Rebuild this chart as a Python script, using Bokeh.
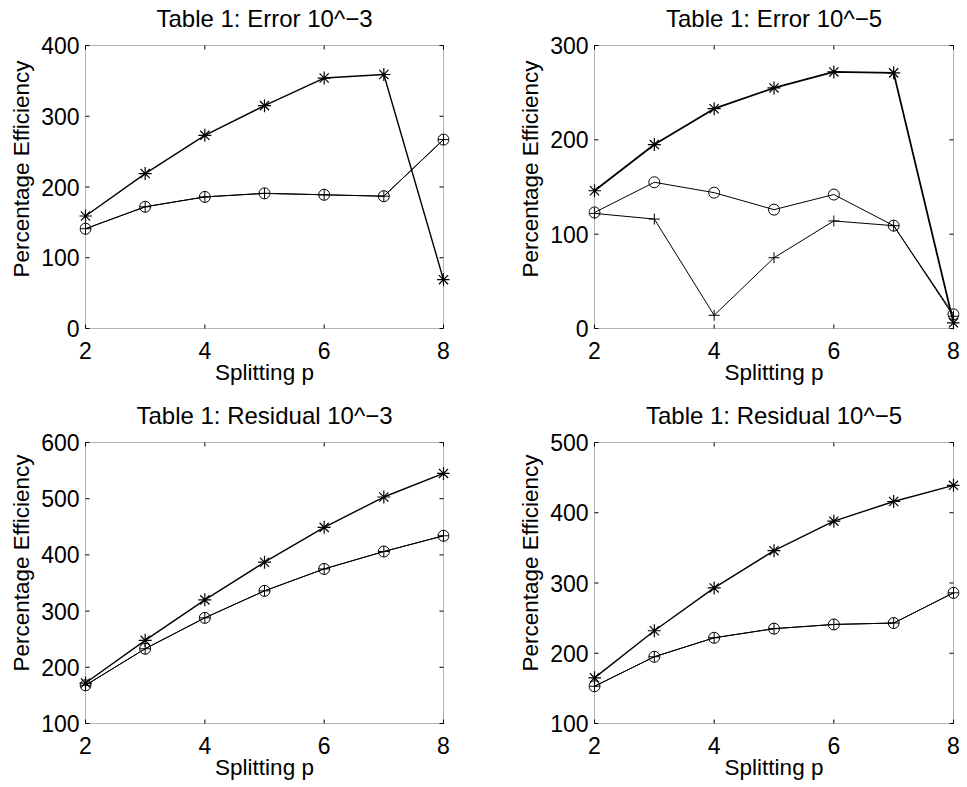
import math
from bokeh.plotting import figure
from bokeh.layouts import gridplot
from bokeh.models import FixedTicker, Range1d, BoxAnnotation, Label
from bokeh.embed import file_html
from bokeh.resources import INLINE

# ---- data ----
splitting = [2, 3, 4, 5, 6, 7, 8]

err3_star = [159, 219, 273, 315, 354, 359, 69]
err3_circle = [141, 172, 186, 191, 189, 187, 267]
err3_plus = [141, 172, 186, 191, 189, 187, 267]

err5_star = [146, 195, 233, 255, 272, 271, 6]
err5_circle = [123, 155, 144, 126, 142, 109, 15]
err5_plus = [122, 116, 14, 75, 114, 109, 13]

res3_star = [172, 248, 320, 387, 449, 503, 545]
res3_circle = [168, 233, 288, 336, 375, 406, 434]
res3_plus = [168, 233, 288, 336, 375, 406, 434]

res5_star = [165, 232, 293, 346, 388, 416, 439]
res5_circle = [153, 195, 222, 235, 241, 243, 286]
res5_plus = [153, 195, 222, 235, 241, 243, 286]

titles = ["Table 1: Error 10^\u22123", "Table 1: Error 10^\u22125",
          "Table 1: Residual 10^\u22123", "Table 1: Residual 10^\u22125"]
x_limits = (2, 8)
y_limits = [(0, 400), (0, 300), (100, 600), (100, 500)]
y_ticks = [[0, 100, 200, 300, 400], [0, 100, 200, 300],
           [100, 200, 300, 400, 500, 600], [100, 200, 300, 400, 500]]
x_ticks = [2, 4, 6, 8]
x_label = "Splitting p"
y_label = "Percentage Efficiency"

series = [
    (err3_star, err3_circle, err3_plus),
    (err5_star, err5_circle, err5_plus),
    (res3_star, res3_circle, res3_plus),
    (res5_star, res5_circle, res5_plus),
]
star_line_widths = [1.4, 1.8, 1.4, 1.4]

FONT = "Liberation Sans"
TICK_FS = "23px"
TITLE_FS = "24px"
LABEL_FS = "22.5px"

# box geometry per panel (pixels): (left, box_w, right, top, box_h, bottom)
geom = [
    (85, 358, 40, 45, 283, 65),
    (111, 359, 14, 45, 283, 65),
    (85, 358, 40, 49, 281, 64),
    (111, 359, 14, 49, 281, 64),
]
title_lift = [27, 27, 27, 27]  # title offset above the box, pixels
PAD = 6        # extra frame pixels round the box so edge markers show fully
TOP_BORDER = 3  # the frame reaches up to here so the title lies inside it
TICK_LEN = 4


def make_panel(i):
    left, bw, right, top, bh, bottom = geom[i]
    y0, y1 = y_limits[i]
    x0, x1 = x_limits
    pad_top = top - TOP_BORDER
    dx = PAD * (x1 - x0) / bw
    dy = PAD * (y1 - y0) / bh
    dy_top = pad_top * (y1 - y0) / bh
    p = figure(frame_width=bw + 2 * PAD, frame_height=bh + PAD + pad_top,
               min_border_left=left - PAD, min_border_right=right - PAD,
               min_border_top=TOP_BORDER, min_border_bottom=bottom - PAD,
               x_range=Range1d(x0 - dx, x1 + dx),
               y_range=Range1d(y0 - dy, y1 + dy_top),
               output_backend="svg", toolbar_location=None)
    p.background_fill_color = "white"
    p.border_fill_color = "white"
    p.outline_line_color = None
    p.xgrid.visible = False
    p.ygrid.visible = False

    # panel title, centred over the box
    p.add_layout(Label(x=(x0 + x1) / 2, y=y1, y_offset=title_lift[i],
                       text=titles[i], text_align="center",
                       text_baseline="alphabetic", text_font=FONT,
                       text_font_size=TITLE_FS, text_color="black"))

    p.xaxis.ticker = FixedTicker(ticks=x_ticks)
    p.yaxis.ticker = FixedTicker(ticks=y_ticks[i])
    for ax in p.xaxis + p.yaxis:
        ax.axis_line_color = None
        ax.major_tick_line_color = None
        ax.minor_tick_line_color = None
        ax.major_tick_in = 0
        ax.major_tick_out = 0
        ax.minor_tick_in = 0
        ax.minor_tick_out = 0
        ax.major_label_text_font = FONT
        ax.major_label_text_color = "black"
        ax.major_label_text_font_size = TICK_FS
        ax.axis_label_text_font = FONT
        ax.axis_label_text_font_size = LABEL_FS
        ax.axis_label_text_font_style = "normal"
        ax.axis_label_text_color = "black"
    p.xaxis.axis_label = x_label
    p.yaxis.axis_label = y_label
    p.xaxis.major_label_standoff = 13 - PAD
    p.yaxis.major_label_standoff = 6 - PAD
    p.xaxis.axis_label_standoff = -2
    p.yaxis.axis_label_standoff = 4

    # the box (MATLAB "box on") and inward ticks on all four sides
    p.add_layout(BoxAnnotation(left=x0, right=x1, bottom=y0, top=y1,
                               fill_color=None, line_color="black",
                               line_width=1, level="overlay"))
    nx, ny = len(x_ticks), len(y_ticks[i])
    p.ray(x=x_ticks, y=[y0] * nx, length=TICK_LEN, length_units="screen",
          angle=math.pi / 2, line_color="black", line_width=1)
    p.ray(x=x_ticks, y=[y1] * nx, length=TICK_LEN, length_units="screen",
          angle=-math.pi / 2, line_color="black", line_width=1)
    p.ray(x=[x0] * ny, y=y_ticks[i], length=TICK_LEN, length_units="screen",
          angle=0, line_color="black", line_width=1)
    p.ray(x=[x1] * ny, y=y_ticks[i], length=TICK_LEN, length_units="screen",
          angle=math.pi, line_color="black", line_width=1)

    star, circ, plus = series[i]
    p.line(splitting, plus, line_color="black", line_width=1)
    p.scatter(splitting, plus, marker="cross", size=11,
              line_color="black", line_width=1, fill_color=None)
    p.line(splitting, circ, line_color="black", line_width=1)
    p.scatter(splitting, circ, marker="circle", size=11,
              line_color="black", line_width=1, fill_color=None)
    p.line(splitting, star, line_color="black", line_width=star_line_widths[i])
    p.scatter(splitting, star, marker="asterisk", size=13,
              line_color="black", line_width=1.2, fill_color=None)
    return p


panels = [make_panel(i) for i in range(4)]
grid = gridplot([[panels[0], panels[1]], [panels[2], panels[3]]],
                toolbar_location=None)

open("out.html", "w").write(file_html(grid, INLINE))
